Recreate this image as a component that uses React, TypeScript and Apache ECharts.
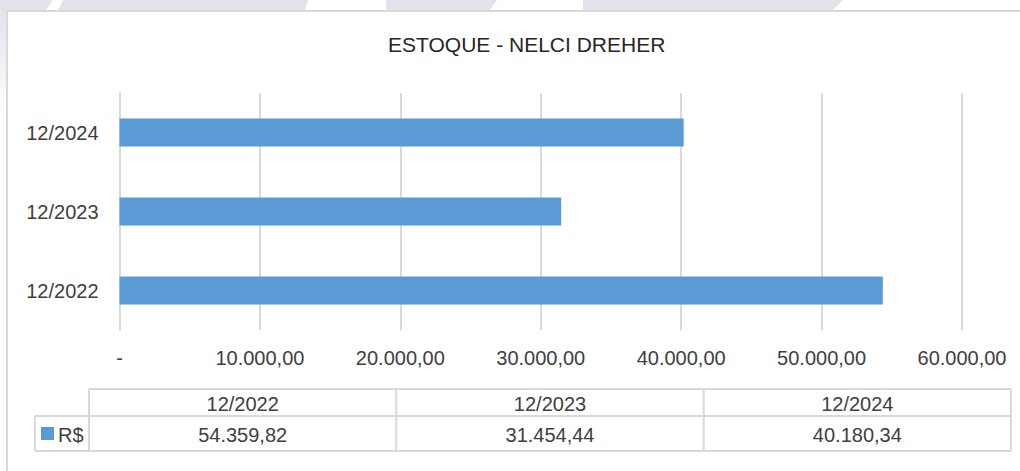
import React, { useEffect, useRef } from "react";
import * as echarts from "echarts";

const categories = ["12/2022", "12/2023", "12/2024"];
const values = [54359.82, 31454.44, 40180.34];
const seriesName = "R$";
const axisMax = 60000;
const axisStep = 10000;

const FONT = "'Liberation Sans', Arial, sans-serif";
const TEXT = "#404040";
const GRID = "#d9d9d9";
const BAR = "#5b9bd5";

function fmt(v: number): string {
  const [i, d] = v.toFixed(2).split(".");
  return i.replace(/\B(?=(\d{3})+(?!\d))/g, ".") + "," + d;
}

export default function App() {
  const ref = useRef<HTMLDivElement>(null);
  useEffect(() => {
    if (!ref.current) return;
    const chart = echarts.init(ref.current, undefined, { renderer: "svg" });

    // table layout
    const tLeft = 35, tKeyRight = 89, tRight = 1011;
    const rowTop = 389, rowMid = 416, rowBot = 451;
    const colW = (tRight - tKeyRight) / categories.length;
    const tableEls: any[] = [];
    const ls = { stroke: GRID, lineWidth: 2 };
    tableEls.push({ type: "line", shape: { x1: tKeyRight, y1: rowTop, x2: tRight, y2: rowTop }, style: ls });
    tableEls.push({ type: "line", shape: { x1: tLeft, y1: rowMid, x2: tRight, y2: rowMid }, style: ls });
    tableEls.push({ type: "line", shape: { x1: tLeft, y1: rowBot, x2: tRight, y2: rowBot }, style: ls });
    tableEls.push({ type: "line", shape: { x1: tLeft, y1: rowMid, x2: tLeft, y2: rowBot }, style: ls });
    for (let c = 0; c <= categories.length; c++) {
      const x = tKeyRight + c * colW;
      tableEls.push({ type: "line", shape: { x1: x, y1: rowTop, x2: x, y2: rowBot }, style: ls });
    }
    categories.forEach((cat, c) => {
      const cx = tKeyRight + (c + 0.5) * colW;
      tableEls.push({
        type: "text", x: cx, y: (rowTop + rowMid) / 2 + 1,
        style: { text: cat, fill: TEXT, font: `20px ${FONT}`, align: "center", verticalAlign: "middle" },
      });
      tableEls.push({
        type: "text", x: cx, y: (rowMid + rowBot) / 2 + 1,
        style: { text: fmt(values[c]), fill: TEXT, font: `20px ${FONT}`, align: "center", verticalAlign: "middle" },
      });
    });
    tableEls.push({ type: "rect", shape: { x: 41, y: 427, width: 13, height: 13 }, style: { fill: BAR } });
    tableEls.push({
      type: "text", x: 58, y: 435,
      style: { text: seriesName, fill: TEXT, font: `20px ${FONT}`, align: "left", verticalAlign: "middle" },
    });

    const lav = "#e3e3ec";
    const bgEls: any[] = [
      { type: "rect", shape: { x: 0, y: 0, width: 1020, height: 10 }, style: { fill: lav }, z: -10 },
      {
        type: "rect", shape: { x: 0, y: 10, width: 6, height: 110 }, z: -10,
        style: {
          fill: new echarts.graphic.LinearGradient(0, 0, 0, 1, [
            { offset: 0, color: lav },
            { offset: 1, color: "#ffffff" },
          ]),
        },
      },
      { type: "polygon", shape: { points: [[53, 0], [63, 0], [58, 10], [46, 10]] }, style: { fill: "#ffffff" }, z: -9 },
      { type: "polygon", shape: { points: [[308, 0], [386, 0], [386, 10], [305, 10]] }, style: { fill: "#ffffff" }, z: -9 },
      { type: "polygon", shape: { points: [[497, 0], [583, 0], [583, 10], [490, 10]] }, style: { fill: "#ffffff" }, z: -9 },
      { type: "polygon", shape: { points: [[843, 0], [1020, 0], [1020, 10], [833, 10]] }, style: { fill: "#ffffff" }, z: -9 },
      {
        type: "rect", shape: { x: 7, y: 11, width: 1040, height: 500 }, z: -8,
        style: { fill: "#ffffff", stroke: GRID, lineWidth: 2 },
      },
    ];

    chart.setOption({
      animation: false,
      backgroundColor: "#ffffff",
      title: {
        text: "ESTOQUE - NELCI DREHER",
        left: 383,
        top: 29,
        textStyle: { fontFamily: FONT, fontSize: 21, fontWeight: "normal", color: "#262626" },
      },
      grid: { left: 119.5, right: 58, top: 93, height: 237, containLabel: false },
      xAxis: {
        type: "value",
        min: 0,
        max: axisMax,
        interval: axisStep,
        axisLine: { show: false },
        axisTick: { show: false },
        splitLine: { show: true, lineStyle: { color: GRID, width: 2 } },
        axisLabel: {
          margin: 18,
          fontFamily: FONT,
          fontSize: 20,
          color: TEXT,
          formatter: (v: number) => (v === 0 ? "-" : fmt(v)),
        },
      },
      yAxis: {
        type: "category",
        data: categories,
        axisLine: { show: true, lineStyle: { color: GRID, width: 2 } },
        axisTick: { show: false },
        axisLabel: { margin: 21, fontFamily: FONT, fontSize: 20, color: TEXT },
      },
      series: [
        {
          name: seriesName,
          type: "bar",
          data: values,
          barWidth: 28,
          itemStyle: { color: BAR },
        },
      ],
      graphic: [...bgEls, ...tableEls],
    });
    return () => chart.dispose();
  }, []);
  return (
    <div
      ref={ref}
      style={{ position: "fixed", left: 0, top: 0, width: 1020, height: 471 }}
    />
  );
}
